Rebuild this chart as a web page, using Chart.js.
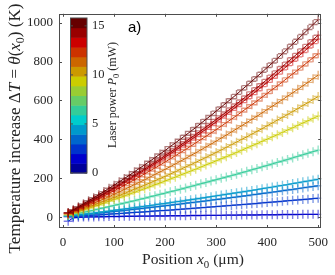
<!DOCTYPE html>
<html><head><meta charset="utf-8">
<script src="https://cdn.jsdelivr.net/npm/chart.js@4/dist/chart.umd.min.js"></script>
<style>html,body{margin:0;padding:0;background:#fff}#wrap{width:335px;height:275px}</style>
</head><body><div id="wrap"><canvas id="c" width="335" height="275"></canvas></div>
<script>
// ---------- data ----------
const xPositions = [10,20,30,40,50,60,70,80,90,100,110,120,130,140,150,160,170,180,190,200,210,220,230,240,250,260,270,280,290,300,310,320,330,340,350,360,370,380,390,400,410,420,430,440,450,460,470,480,490,500];
const dT_p0  = [-20,-3,0,1,2,2,3,3,4,4,4,5,5,5,6,6,6,7,7,7,8,8,8,8,9,9,9,10,10,10,10,11,11,11,12,12,12,12,13,13,13,13,14,14,14,14,15,15,15,15];
const dT_p1  = [3,4,6,7,9,11,12,14,16,18,19,21,23,25,26,28,30,32,34,35,37,39,41,43,45,47,49,51,53,55,57,59,61,63,65,67,69,71,74,76,78,80,82,85,87,89,91,93,96,98];
const dT_p2  = [5,8,10,13,16,18,21,24,27,30,32,35,38,41,44,47,50,53,56,59,62,65,68,72,75,78,81,84,88,91,94,98,101,104,108,111,115,118,122,125,129,132,136,140,143,147,151,155,158,162];
const dT_p3  = [6,9,13,16,19,22,26,29,32,36,39,43,46,50,53,57,60,64,68,71,75,79,82,86,90,94,98,102,106,110,114,118,122,126,130,134,138,142,147,151,155,160,164,168,173,177,182,186,191,195];
const dT_p4  = [8,14,20,25,31,37,43,49,55,61,67,73,79,85,92,98,105,111,118,124,131,137,144,151,158,165,172,179,186,193,200,207,214,221,229,236,244,251,259,266,274,282,289,297,305,313,321,329,337,345];
const dT_p5  = [11,20,28,37,46,55,63,72,82,91,100,109,119,128,138,147,157,167,176,186,196,206,217,227,237,247,258,269,279,290,301,311,322,333,344,356,367,378,390,401,413,424,436,448,460,472,484,496,508,520];
const dT_p6  = [16,25,34,43,53,62,72,82,92,102,112,122,133,144,154,165,176,188,199,210,222,234,246,258,270,282,295,307,320,333,346,359,373,386,400,413,427,441,455,470,484,499,513,528,543,558,574,589,605,620];
const dT_p7  = [17,27,38,49,60,72,83,95,106,118,130,143,155,168,180,193,206,220,233,246,260,274,288,302,317,331,346,361,376,391,407,422,438,454,470,486,503,519,536,553,570,587,604,622,639,657,675,693,712,730];
const dT_p8  = [20,32,44,57,70,83,96,109,123,136,150,164,179,193,208,223,238,253,268,284,300,316,332,348,365,382,399,416,433,450,468,486,504,522,541,560,578,597,617,636,656,675,695,716,736,756,777,798,819,840];
const dT_p9  = [21,34,47,61,75,89,103,118,133,148,163,178,194,210,226,242,258,275,292,309,326,343,361,379,397,415,434,452,471,490,510,529,549,569,589,609,630,650,671,693,714,735,757,779,801,824,846,869,892,915];
const dT_p10 = [23,36,50,64,78,93,107,122,137,152,168,184,199,216,232,248,265,282,299,317,334,352,370,388,407,425,444,463,482,502,521,541,561,582,602,623,644,665,686,708,730,752,774,797,819,842,865,888,912,935];
const dT_p11 = [24,39,54,69,85,100,116,132,149,165,182,199,216,234,252,269,288,306,325,343,363,382,401,421,441,461,482,503,523,545,566,588,609,631,654,676,699,722,745,769,792,816,840,865,889,914,939,964,990,1015];
const seriesList = [dT_p0,dT_p1,dT_p2,dT_p3,dT_p4,dT_p5,dT_p6,dT_p7,dT_p8,dT_p9,dT_p10,dT_p11];
const xTicks = [0,100,200,300,400,500];
const yTicks = [0,200,400,600,800,1000];
const cbTicks = [0,5,10,15];
const cbRange = [0,15.8];

// ---------- styles ----------
const seriesColors = [[0,0,204],[0,51,204],[0,102,204],[0,153,204],[51,204,153],[204,204,0],[204,153,0],[204,102,0],[204,51,0],[204,0,0],[153,0,0],[102,0,0]];
const cbColors = ['#000099','#0000cc','#0033cc','#0066cc','#0099cc','#00cccc','#33cc99','#66cc66','#99cc33','#cccc00','#cc9900','#cc6600','#cc3300','#cc0000','#990000','#660000'];
const SERIF = "'Liberation Serif', 'DejaVu Serif', serif";
const AXC = '#262626';

const datasets = seriesList.map((vals, i) => {
  const c = seriesColors[i];
  return {
    data: vals.map((v, k) => ({x: xPositions[k], y: v})),
    borderColor: `rgb(${c[0]},${c[1]},${c[2]})`,
    borderWidth: 1,
    pointStyle: 'cross',
    pointRadius: 4.5,
    pointBorderWidth: 1.4,
    pointBorderColor: `rgba(${c[0]},${c[1]},${c[2]},0.5)`,
    pointBackgroundColor: 'transparent',
    fill: false,
    tension: 0
  };
}).reverse();

function richWidth(ctx, segs, size) {
  let w = 0;
  for (const s of segs) {
    const sz = s.sub ? size * 0.7 : size;
    ctx.font = (s.it ? 'italic ' : '') + sz + 'px ' + SERIF;
    w += ctx.measureText(s.t).width;
  }
  return w;
}
function drawRich(ctx, segs, cx, cy, size, rot) {
  ctx.save();
  ctx.translate(cx, cy);
  if (rot) ctx.rotate(rot);
  const W = richWidth(ctx, segs, size);
  let x = -W / 2;
  ctx.textBaseline = 'alphabetic';
  ctx.textAlign = 'left';
  ctx.fillStyle = AXC;
  for (const s of segs) {
    const sz = s.sub ? size * 0.7 : size;
    ctx.font = (s.it ? 'italic ' : '') + sz + 'px ' + SERIF;
    ctx.fillText(s.t, x, size * 0.35 + (s.sub ? size * 0.22 : 0));
    x += ctx.measureText(s.t).width;
  }
  ctx.restore();
}
function fitSize(ctx, segs, target) {
  const base = 14;
  return base * target / richWidth(ctx, segs, base);
}

const decor = {
  id: 'decor',
  afterDatasetsDraw(chart) {
    const ctx = chart.ctx, a = chart.chartArea;
    const xs = chart.scales.x, ys = chart.scales.y;
    ctx.save();
    ctx.strokeStyle = '#4d4d4d';
    ctx.lineWidth = 1;
    ctx.strokeRect(Math.round(a.left) + 0.5, Math.round(a.top) + 0.5, Math.round(a.right - a.left) - 1, Math.round(a.bottom - a.top) - 1);
    ctx.beginPath();
    for (const v of xTicks) {
      const p = Math.round(xs.getPixelForValue(v)) + 0.5;
      ctx.moveTo(p, a.bottom); ctx.lineTo(p, a.bottom - 3);
      ctx.moveTo(p, a.top); ctx.lineTo(p, a.top + 3);
    }
    for (const v of yTicks) {
      const p = Math.round(ys.getPixelForValue(v)) + 0.5;
      ctx.moveTo(a.left, p); ctx.lineTo(a.left + 3, p);
      ctx.moveTo(a.right, p); ctx.lineTo(a.right - 3, p);
    }
    ctx.stroke();
    // colorbar
    const cbL = 70.5, cbR = 87, cbTop = 18, cbBot = 173;
    const cbY = v => cbBot - (v - cbRange[0]) / (cbRange[1] - cbRange[0]) * (cbBot - cbTop);
    const n = cbColors.length;
    const step = (cbRange[1] - cbRange[0]) / n;
    for (let i = 0; i < n; i++) {
      const y0 = cbY(cbRange[0] + i * step), y1 = cbY(cbRange[0] + (i + 1) * step);
      ctx.fillStyle = cbColors[i];
      ctx.fillRect(cbL, y1, cbR - cbL, y0 - y1 + 0.5);
    }
    ctx.strokeStyle = '#4d4d4d';
    ctx.strokeRect(cbL, cbTop, cbR - cbL, cbBot - cbTop);
    ctx.fillStyle = AXC;
    ctx.font = '12.5px ' + SERIF;
    ctx.textAlign = 'left';
    ctx.textBaseline = 'middle';
    ctx.beginPath();
    for (const v of cbTicks) {
      const y = cbY(v);
      ctx.fillText(String(v), 92, y);
      ctx.moveTo(cbR, y); ctx.lineTo(cbR - 2.5, y);
      ctx.moveTo(cbL, y); ctx.lineTo(cbL + 2.5, y);
    }
    ctx.stroke();
    const cbSegs = [{t:'Laser power '},{t:'P',it:1},{t:'0',sub:1},{t:' (mW)'}];
    drawRich(ctx, cbSegs, 112, 95, fitSize(ctx, cbSegs, 106), -Math.PI / 2);
    const ySegs = [{t:'Temperature increase \u0394'},{t:'T',it:1},{t:' = '},{t:'\u03b8',it:1},{t:'('},{t:'x',it:1},{t:'0',sub:1},{t:') (K)'}];
    drawRich(ctx, ySegs, 14, 128.5, fitSize(ctx, ySegs, 250), -Math.PI / 2);
    const xSegs = [{t:'Position '},{t:'x',it:1},{t:'0',sub:1},{t:' (\u03bcm)'}];
    drawRich(ctx, xSegs, 193, 259, fitSize(ctx, xSegs, 102), 0);
    ctx.font = "15px 'Liberation Sans', Arial, sans-serif";
    ctx.fillStyle = '#000';
    ctx.textAlign = 'left';
    ctx.textBaseline = 'middle';
    ctx.fillText('a)', 128, 28);
    ctx.restore();
  }
};

new Chart(document.getElementById('c'), {
  type: 'line',
  data: { datasets },
  options: {
    responsive: false,
    animation: false,
    devicePixelRatio: 1,
    layout: { padding: { left: 0, top: 7, right: 8, bottom: 0 } },
    plugins: { legend: { display: false }, tooltip: { enabled: false } },
    scales: {
      x: {
        type: 'linear', min: -8, max: 506,
        grid: { display: false, drawTicks: false },
        border: { display: false },
        ticks: { font: { family: SERIF, size: 13 }, color: AXC, padding: 7, maxRotation: 0, callback: v => String(v) },
        afterBuildTicks: s => { s.ticks = xTicks.map(v => ({ value: v })); },
        afterFit: s => { s.height = 47; }
      },
      y: {
        type: 'linear', min: -55, max: 1045,
        grid: { display: false, drawTicks: false },
        border: { display: false },
        ticks: { font: { family: SERIF, size: 13 }, color: AXC, padding: 6, callback: v => String(v) },
        afterBuildTicks: s => { s.ticks = yTicks.map(v => ({ value: v })); },
        afterFit: s => { s.width = 59; }
      }
    }
  },
  plugins: [decor]
});
</script></body></html>
